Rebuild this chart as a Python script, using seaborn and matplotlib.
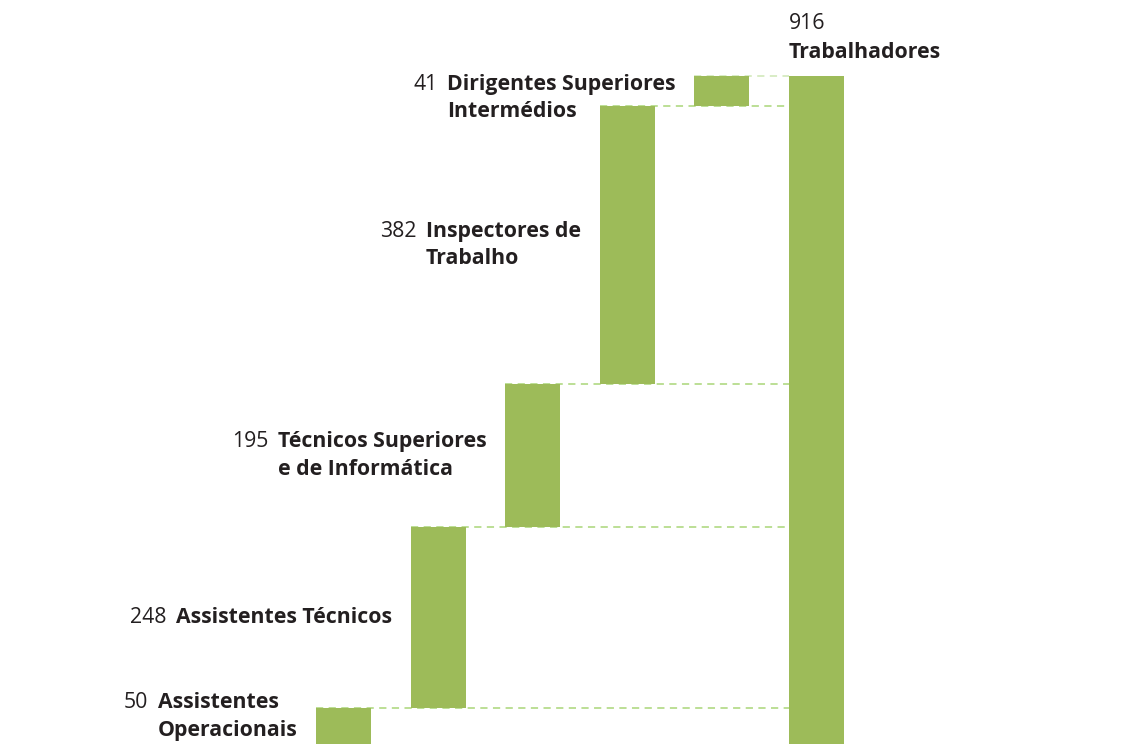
import seaborn as sns
import matplotlib.pyplot as plt
import pandas as pd

# Data
categorias = ['Assistentes\nOperacionais', 'Assistentes Técnicos',
              'Técnicos Superiores\ne de Informática', 'Inspectores de\nTrabalho',
              'Dirigentes Superiores\nIntermédios', 'Trabalhadores']
valores = [50, 248, 195, 382, 41]
total = 916

barColor = '#9dbb59'
lineColor = '#b6dc8c'
textColor = '#231f20'

# base of each step = running total before it
bases = [sum(valores[:i]) for i in range(len(valores))]
df = pd.DataFrame({'cat': categorias,
                   'altura': valores + [total],
                   'base': bases + [0]})

sns.set_style('white')
plt.rcParams['font.family'] = ['Open Sans', 'DejaVu Sans']

fig = plt.figure(figsize=(11.34, 7.44), dpi=100)
ax = fig.add_axes([0, 0, 1, 1])
barW = 0.582
sns.barplot(x='cat', y='altura', data=df, order=categorias, color=barColor,
            width=barW, bottom=df['base'].values, linewidth=0, saturation=1,
            ax=ax, zorder=3)

ax.set_xlim(-3.64, 8.36)
ax.set_ylim(0, 1020)
ax.axis('off')

# dashed guide lines from each step to the total bar
totX = len(valores) - barW / 2
for i, (b, v) in enumerate(zip(bases, valores)):
    top = b + v
    c = lineColor if i < len(valores) - 1 else '#d6ebc0'
    ax.plot([i - barW / 2, totX], [top, top], ls=(0, (4, 3)), lw=1.3,
            color=c, zorder=1)

fs = 15.3
# labels left of each step
for i, (b, v) in enumerate(zip(bases, valores)):
    yLab = max(b + v / 2, 38)
    if i == len(valores) - 1:
        yLab -= 10
    nome = ax.text(i - barW / 2 - 0.2, yLab, categorias[i], ha='right',
                   va='center', multialignment='left', fontsize=fs,
                   fontweight='bold', color=textColor, linespacing=1.42)
    ax.annotate(str(v), xy=(0, 1), xycoords=nome, xytext=(-7, 0),
                textcoords='offset points', ha='right', va='top',
                fontsize=fs, color=textColor)

# total label
ax.text(totX, total + 58, str(total), ha='left', va='bottom', fontsize=fs,
        color=textColor)
ax.text(totX, total + 17, categorias[-1], ha='left', va='bottom', fontsize=fs,
        fontweight='bold', color=textColor)

fig.savefig('out.png', dpi=100)
